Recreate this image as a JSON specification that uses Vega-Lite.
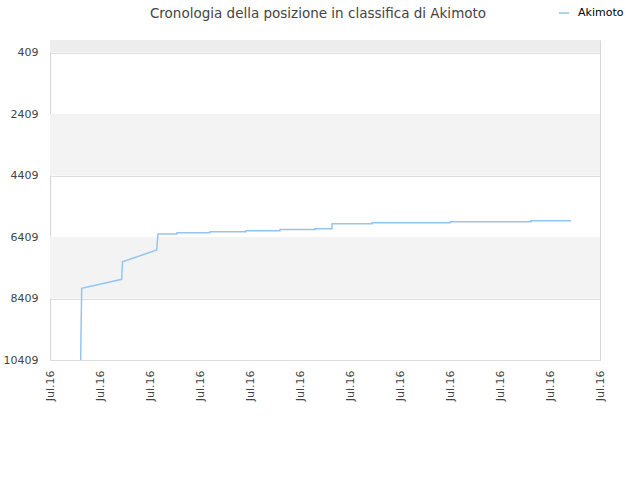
{
  "$schema": "https://vega.github.io/schema/vega-lite/v6.json",
  "width": 550,
  "height": 320,
  "autosize": {"type": "none"},
  "padding": {"left": 50, "top": 40, "right": 40, "bottom": 120},
  "background": "#ffffff",
  "title": {
    "text": "Cronologia della posizione in classifica di Akimoto",
    "font": "DejaVu Sans",
    "fontSize": 13.5,
    "fontWeight": "normal",
    "color": "#444444",
    "anchor": "middle",
    "dx": -7,
    "offset": -13
  },
  "config": {
    "view": {"stroke": "#d6d6d6"},
    "axis": {
      "labelFont": "DejaVu Sans",
      "labelFontSize": 11,
      "labelColor": "#444444",
      "domain": false,
      "ticks": false
    },
    "legend": {
      "labelFont": "DejaVu Sans",
      "labelFontSize": 11,
      "labelColor": "#000000"
    }
  },
  "datasets": {
    "bands": [
      {"from": 0, "to": 409, "kind": "top"},
      {"from": 2409, "to": 4409, "kind": "band"},
      {"from": 6409, "to": 8409, "kind": "band"}
    ],
    "ranks": [
      {"order": 1, "time": "2016-07-01T14:44", "rank": 10409, "player": "Akimoto"},
      {"order": 2, "time": "2016-07-01T14:50", "rank": 9782, "player": "Akimoto"},
      {"order": 3, "time": "2016-07-01T15:13", "rank": 8077, "player": "Akimoto"},
      {"order": 4, "time": "2016-07-02T10:25", "rank": 7784, "player": "Akimoto"},
      {"order": 5, "time": "2016-07-02T10:48", "rank": 7212, "player": "Akimoto"},
      {"order": 6, "time": "2016-07-03T03:13", "rank": 6831, "player": "Akimoto"},
      {"order": 7, "time": "2016-07-03T03:50", "rank": 6311, "player": "Akimoto"},
      {"order": 8, "time": "2016-07-03T12:58", "rank": 6311, "player": "Akimoto"},
      {"order": 9, "time": "2016-07-03T12:59", "rank": 6269, "player": "Akimoto"},
      {"order": 10, "time": "2016-07-04T04:48", "rank": 6269, "player": "Akimoto"},
      {"order": 11, "time": "2016-07-04T04:49", "rank": 6236, "player": "Akimoto"},
      {"order": 12, "time": "2016-07-04T22:05", "rank": 6236, "player": "Akimoto"},
      {"order": 13, "time": "2016-07-04T22:06", "rank": 6204, "player": "Akimoto"},
      {"order": 14, "time": "2016-07-05T14:24", "rank": 6204, "player": "Akimoto"},
      {"order": 15, "time": "2016-07-05T14:25", "rank": 6164, "player": "Akimoto"},
      {"order": 16, "time": "2016-07-06T07:12", "rank": 6164, "player": "Akimoto"},
      {"order": 17, "time": "2016-07-06T07:13", "rank": 6138, "player": "Akimoto"},
      {"order": 18, "time": "2016-07-06T15:22", "rank": 6138, "player": "Akimoto"},
      {"order": 19, "time": "2016-07-06T15:23", "rank": 5976, "player": "Akimoto"},
      {"order": 20, "time": "2016-07-07T10:34", "rank": 5976, "player": "Akimoto"},
      {"order": 21, "time": "2016-07-07T10:35", "rank": 5943, "player": "Akimoto"},
      {"order": 22, "time": "2016-07-09T00:00", "rank": 5943, "player": "Akimoto"},
      {"order": 23, "time": "2016-07-09T00:01", "rank": 5911, "player": "Akimoto"},
      {"order": 24, "time": "2016-07-10T14:53", "rank": 5911, "player": "Akimoto"},
      {"order": 25, "time": "2016-07-10T14:54", "rank": 5878, "player": "Akimoto"},
      {"order": 26, "time": "2016-07-11T10:05", "rank": 5878, "player": "Akimoto"}
    ]
  },
  "layer": [
    {
      "data": {"name": "bands"},
      "mark": {"type": "rect"},
      "encoding": {
        "y": {
          "field": "from",
          "type": "quantitative",
          "scale": {"domain": [0, 10409], "reverse": true, "nice": false, "zero": false},
          "axis": {
            "values": [409, 2409, 4409, 6409, 8409, 10409],
            "format": "d",
            "title": null,
            "grid": true,
            "gridColor": "#dddddd",
            "labelPadding": 12
          }
        },
        "y2": {"field": "to"},
        "fill": {
          "field": "kind",
          "type": "nominal",
          "scale": {"domain": ["top", "band"], "range": ["#ededed", "#f3f3f3"]},
          "legend": null
        }
      }
    },
    {
      "data": {"name": "ranks"},
      "mark": {"type": "line", "strokeWidth": 1.5},
      "encoding": {
        "x": {
          "field": "time",
          "type": "temporal",
          "scale": {
            "domain": [
              {"year": 2016, "month": 7, "date": 1},
              {"year": 2016, "month": 7, "date": 12}
            ]
          },
          "axis": {
            "values": [
              {"year": 2016, "month": 7, "date": 1},
              {"year": 2016, "month": 7, "date": 2},
              {"year": 2016, "month": 7, "date": 3},
              {"year": 2016, "month": 7, "date": 4},
              {"year": 2016, "month": 7, "date": 5},
              {"year": 2016, "month": 7, "date": 6},
              {"year": 2016, "month": 7, "date": 7},
              {"year": 2016, "month": 7, "date": 8},
              {"year": 2016, "month": 7, "date": 9},
              {"year": 2016, "month": 7, "date": 10},
              {"year": 2016, "month": 7, "date": 11},
              {"year": 2016, "month": 7, "date": 12}
            ],
            "format": "%b.%y",
            "labelAngle": -90,
            "labelPadding": 10,
            "grid": false,
            "title": null
          }
        },
        "y": {"field": "rank", "type": "quantitative"},
        "order": {"field": "order", "type": "quantitative"},
        "color": {
          "field": "player",
          "type": "nominal",
          "scale": {"range": ["#92c5f5"]},
          "legend": {
            "title": null,
            "orient": "none",
            "legendX": 508,
            "legendY": -33,
            "symbolType": "stroke",
            "symbolStrokeWidth": 1.5,
            "symbolSize": 100,
            "labelOffset": 8
          }
        }
      }
    }
  ]
}
